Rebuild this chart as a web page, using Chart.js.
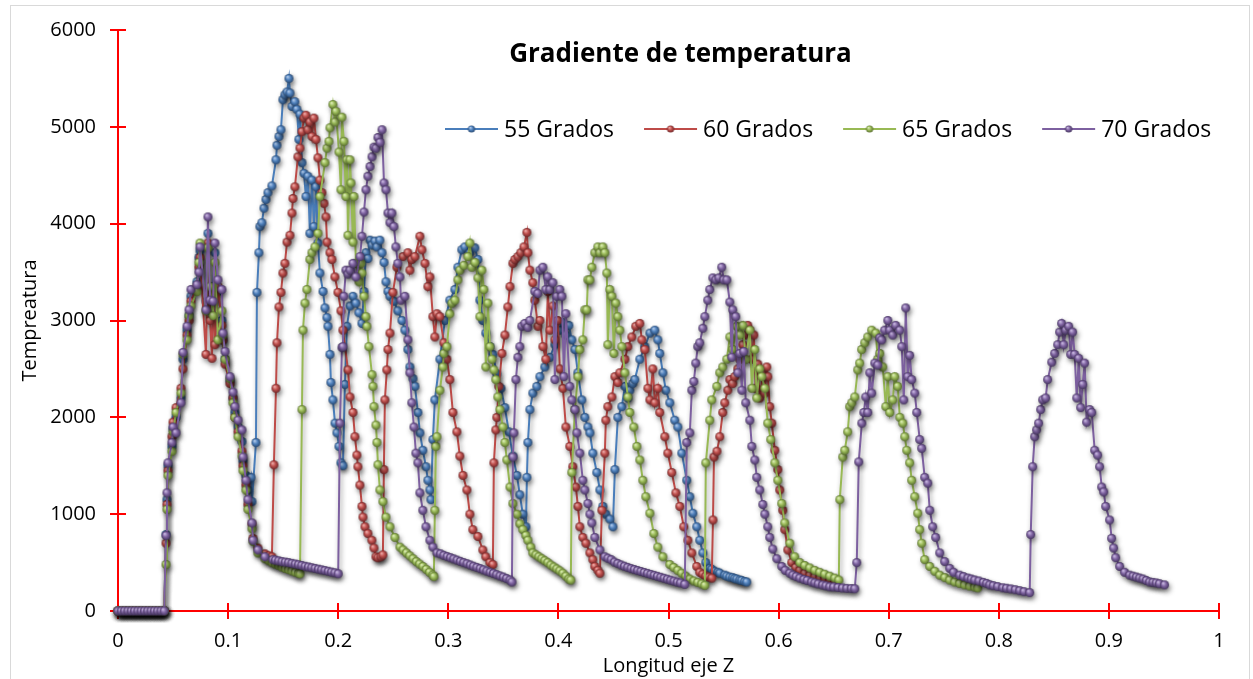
<!DOCTYPE html>
<html><head><meta charset="utf-8">
<script src="https://cdn.jsdelivr.net/npm/chart.js@4.4.1/dist/chart.umd.min.js"></script>
<style>
html,body{margin:0;padding:0;background:#fff;overflow:hidden}
#frame{position:absolute;left:10px;top:5px;width:1240px;height:700px;border:1px solid #d9d9d9;box-sizing:border-box}
#wrap{position:absolute;left:0;top:0;width:1253px;height:679px}
</style></head><body>
<div id="frame"></div>
<div id="wrap"><canvas id="c" width="1253" height="679"></canvas></div>
<script>
// ---------- DATA ----------
const seriesNames = ['55 Grados', '60 Grados', '65 Grados', '70 Grados'];
const xTickStep = 0.1, xMin = 0, xMax = 1;
const yTickStep = 1000, yMin = 0, yMax = 6000;
const chartTitle = 'Gradiente de temperatura';
const xTitle = 'Longitud eje Z';
const yTitle = 'Tempreatura';

// flat start, identical for the four series
const zeroRun = [[0,0],[0.003,0],[0.006,0],[0.009,0],[0.012,0],[0.015,0],[0.018,0],[0.021,0],[0.024,0],[0.027,0],[0.03,0],[0.033,0],[0.036,0],[0.039,0],[0.042,0]];

const s55 = [
[0.0436,790],[0.0445,1150],[0.0454,1500],[0.049,1700],[0.05,1880],[0.0527,2000],[0.0572,2200],[0.059,2600],[0.0627,2900],[0.0645,3050],[0.0663,3250],[0.0717,3400],[0.0735,3650],[0.0745,3720],[0.0799,3200],[0.0817,3900],[0.0836,3100],[0.0863,3350],[0.0881,3700],[0.0908,3300],[0.0944,3000],[0.0953,2800],[0.0972,2600],[0.1017,2380],[0.1044,2200],[0.1062,2050],[0.109,1900],[0.1126,1750],[0.1135,1550],[0.1162,1400],[0.118,1250],[0.1208,1380],[0.1217,1130],
[0.1253,1740],[0.1262,3290],[0.128,3700],[0.1289,3970],[0.1307,4010],[0.1326,4160],[0.1344,4250],[0.1362,4320],[0.1398,4390],[0.1435,4660],[0.1444,4810],[0.1462,4900],[0.148,4970],[0.1498,5280],[0.1516,5330],[0.1535,5360],[0.1553,5500],[0.1562,5350],[0.158,5210],[0.1607,5260],[0.1625,5180],[0.1643,4870],[0.1653,5130],[0.1671,4630],[0.1689,4520],[0.1707,4280],[0.1725,4490],[0.1743,3900],[0.1762,4450],[0.178,3970],[0.1798,4380],[0.1816,3800],[0.1834,3490],[0.1862,3300],[0.188,3130],[0.1898,3030],[0.1907,2940],[0.1925,2650],[0.1934,2360],[0.1952,2180],[0.1971,1940],[0.1989,1840],[0.2007,1700],[0.2025,1530],[0.2043,1500],
[0.2061,2340],[0.2079,2940],[0.2107,3150],[0.2134,3250],[0.2161,3180],[0.2188,3080],[0.2216,2970],[0.2234,3300],[0.2252,3700],[0.227,3640],[0.2289,3830],[0.2307,3780],[0.2334,3820],[0.2352,3760],[0.2379,3830],[0.2398,3700],[0.2416,3600],[0.2434,3400],[0.2452,3300],[0.247,3250],[0.2506,3200],[0.2542,3100],[0.2579,3000],[0.2606,2900],[0.2633,2700],[0.2651,2520],[0.2679,2400],[0.2697,2320],[0.2724,2050],[0.2742,1840],[0.2769,1660],[0.2797,1490],[0.2815,1350],[0.2833,1250],[0.2842,1150],
[0.286,1770],[0.2878,2180],[0.2924,2600],[0.2969,3000],[0.3014,3210],[0.306,3320],[0.3087,3550],[0.3123,3730],[0.3151,3760],[0.3196,3700],[0.3241,3750],[0.3269,3630],[0.3287,3210],[0.3314,3000],[0.3341,2870],[0.3378,2730],[0.3405,2650],[0.3441,2450],[0.3478,2300],[0.3514,2100],[0.355,1850],[0.3587,1600],[0.3623,1400],[0.365,1200],[0.3677,1000],[0.3705,870],
[0.3714,1380],[0.3723,1740],[0.3741,2080],[0.3768,2250],[0.3804,2320],[0.3832,2420],[0.3877,2520],[0.3923,2620],[0.3968,2750],[0.4013,2900],[0.4041,2980],[0.4068,2850],[0.4095,2950],[0.4122,2800],[0.415,2700],[0.4177,2460],[0.4213,2180],[0.424,2000],[0.4268,1900],[0.4286,1840],[0.4313,1630],[0.4349,1430],[0.4377,1250],[0.4404,1080],[0.4431,1000],[0.4467,950],[0.4495,870],
[0.4513,1460],[0.454,2000],[0.4576,2110],[0.4604,2320],[0.4631,2200],[0.4649,2280],[0.4676,2350],[0.4694,2390],[0.474,2600],[0.4785,2730],[0.4831,2870],[0.4876,2900],[0.4903,2800],[0.4921,2660],[0.4949,2460],[0.4976,2280],[0.5012,2150],[0.5057,1970],[0.5085,1900],[0.5121,1630],[0.5166,1350],[0.5194,1180],[0.5221,1010],[0.5257,870],[0.5284,730],[0.5312,600],[0.5339,500],[0.5375,440],[0.5393,430],[0.542,410],[0.5448,400],[0.5466,390],[0.5511,370],[0.553,360],[0.5557,350],[0.5584,345],[0.5602,335],[0.5621,330],[0.5648,320],[0.5666,315],[0.5693,305],[0.5711,300]
];

const s60 = [
[0.0436,700],[0.0445,1100],[0.0454,1450],[0.049,1800],[0.05,1950],[0.0527,2100],[0.0572,2300],[0.059,2500],[0.0627,2850],[0.0645,3000],[0.0663,3200],[0.0717,3350],[0.0735,3550],[0.0745,3650],[0.0799,2650],[0.0817,3800],[0.0836,3000],[0.0854,2610],[0.0863,3300],[0.0881,2750],[0.0908,3350],[0.0944,2950],[0.0953,2800],[0.0972,2550],[0.1017,2350],[0.1044,2200],[0.1062,2000],[0.109,1850],[0.1126,1650],[0.1135,1500],[0.1162,1300],[0.118,1100],[0.1217,900],[0.1226,750],[0.1271,650],[0.1335,590],[0.1371,570],[0.1398,560],
[0.1416,1510],[0.1435,2300],[0.1444,2770],[0.1462,3140],[0.148,3290],[0.1498,3490],[0.1516,3590],[0.1535,3810],[0.1562,3880],[0.158,4110],[0.1589,4260],[0.1607,4380],[0.1634,4690],[0.1653,4780],[0.1671,4950],[0.1689,5090],[0.1707,5120],[0.1725,4970],[0.1743,5050],[0.1762,4900],[0.178,5090],[0.1798,4870],[0.1816,4680],[0.1834,4450],[0.1852,4320],[0.1871,4210],[0.1889,4070],[0.1898,3810],[0.1925,3700],[0.1943,3630],[0.197,3450],[0.1998,3290],[0.2025,3100],[0.2043,2900],[0.2089,2490],[0.2107,2210],[0.2134,2050],[0.2152,1800],[0.217,1610],[0.2179,1490],[0.2197,1300],[0.2216,1080],[0.2225,970],[0.2243,870],[0.227,800],[0.2306,730],[0.2325,650],[0.2343,560],[0.2361,550],[0.2388,560],
[0.2406,580],[0.2415,1460],[0.2424,2180],[0.2442,2490],[0.2452,2700],[0.247,2870],[0.2497,3290],[0.2533,3550],[0.2588,3660],[0.2633,3700],[0.2651,3520],[0.2669,3630],[0.2697,3660],[0.2742,3870],[0.276,3730],[0.2788,3590],[0.2815,3350],[0.2833,3450],[0.286,3040],[0.2878,2830],[0.2897,3070],[0.2924,3040],[0.296,2770],[0.2987,2600],[0.3014,2390],[0.3042,2050],[0.3078,1850],[0.3105,1600],[0.3133,1400],[0.3169,1250],[0.3196,1000],[0.3223,840],[0.3269,770],[0.3314,630],[0.3341,560],[0.3378,500],
[0.3405,480],[0.3414,1530],[0.3432,1870],[0.3441,2000],[0.3459,2320],[0.3487,2660],[0.3514,2850],[0.3541,3140],[0.356,3350],[0.3587,3590],[0.3605,3630],[0.3632,3660],[0.3659,3700],[0.3687,3760],[0.3714,3910],[0.3723,3700],[0.3741,3520],[0.3768,3390],[0.3786,3210],[0.3814,2940],[0.3832,3000],[0.3859,2730],[0.3886,2600],[0.3904,3300],[0.3923,2900],[0.395,3150],[0.3968,2800],[0.3995,3000],[0.4013,2500],[0.4041,2300],[0.4068,1900],[0.4104,1700],[0.4131,1490],[0.4159,1280],[0.4177,1080],[0.4195,870],[0.4222,760],[0.425,700],[0.4286,600],[0.4313,530],[0.4331,460],[0.4359,420],[0.4377,390],
[0.4395,1040],[0.4422,1630],[0.4431,1970],[0.4449,2110],[0.4486,2210],[0.4513,2420],[0.454,2360],[0.4558,2460],[0.4604,2600],[0.4631,2730],[0.4667,2830],[0.4703,2940],[0.474,2970],[0.4758,2800],[0.4785,2700],[0.4813,2300],[0.4831,2180],[0.4858,2500],[0.4876,2150],[0.4903,2300],[0.4921,2050],[0.4967,1800],[0.4994,1630],[0.503,1430],[0.5067,1220],[0.5103,1080],[0.5139,870],[0.5176,730],[0.5212,600],[0.5257,460],[0.5284,400],[0.5312,380],[0.5339,360],[0.5366,350],[0.5393,340],
[0.5404,940],[0.5413,1590],[0.544,1650],[0.5466,1800],[0.5493,2050],[0.5511,2150],[0.5539,2280],[0.5557,2390],[0.5584,2350],[0.5602,2420],[0.563,2500],[0.5648,2600],[0.5675,2750],[0.5693,2850],[0.572,2950],[0.5739,2900],[0.5757,2600],[0.5775,2850],[0.5793,2300],[0.5811,2550],[0.5829,2200],[0.5857,2450],[0.5875,2250],[0.5893,2520],[0.5902,2420],[0.592,2110],[0.5938,1940],[0.5966,1660],[0.5993,1460],[0.6011,1250],[0.6038,1040],[0.6056,840],[0.6084,630],[0.612,500],[0.6156,450],[0.6193,420],[0.6238,390],[0.6283,370],[0.6329,355],[0.6374,340],[0.6419,330],[0.6465,315],[0.651,300]
];

const s65 = [
[0.0436,480],[0.0445,1050],[0.0454,1400],[0.049,1650],[0.05,1850],[0.0527,2050],[0.0572,2250],[0.059,2650],[0.0627,2800],[0.0645,3050],[0.0663,3150],[0.0717,3300],[0.0735,3600],[0.0745,3800],[0.0799,3100],[0.0817,3750],[0.0836,3350],[0.0863,3050],[0.0881,3600],[0.0908,2800],[0.0944,3100],[0.0953,2850],[0.0972,2600],[0.1017,2400],[0.1044,2150],[0.1062,2000],[0.109,1800],[0.1126,1600],[0.1135,1450],[0.1162,1250],[0.118,1050],[0.1217,850],[0.1226,720],[0.1271,600],[0.1335,540],
[0.137,520],[0.14,500],[0.143,485],[0.146,470],[0.149,455],[0.152,440],[0.155,428],[0.158,415],[0.161,402],[0.164,390],[0.1653,385],
[0.1671,2080],[0.168,2900],[0.1698,3180],[0.1716,3320],[0.1743,3630],[0.1762,3700],[0.1789,3760],[0.1816,3900],[0.1834,4280],[0.188,4630],[0.1898,4780],[0.1916,4850],[0.1925,4990],[0.1952,5230],[0.1971,5050],[0.198,5160],[0.2007,4740],[0.2025,4350],[0.2034,5100],[0.2052,4850],[0.207,4280],[0.2079,4660],[0.2089,3880],[0.2107,4660],[0.2116,4420],[0.2134,3810],[0.2143,4280],[0.2161,3590],[0.2189,3400],[0.2207,3590],[0.2216,3490],[0.2234,3250],[0.2252,3040],[0.2261,2940],[0.2279,2730],[0.2307,2440],[0.2316,2320],[0.2325,2110],[0.2343,1920],[0.2352,1740],[0.2361,1510],[0.2379,1250],[0.2406,1130],[0.2434,970],[0.247,870],[0.2515,760],[0.2561,660],
[0.259,630],[0.262,600],[0.265,570],[0.268,540],[0.271,510],[0.274,485],[0.277,460],[0.28,430],[0.283,400],[0.286,370],[0.2869,355],
[0.2878,1040],[0.2887,1700],[0.2897,1800],[0.2924,2280],[0.2951,2520],[0.296,2660],[0.2987,2730],[0.3014,3070],[0.3033,3180],[0.306,3210],[0.3087,3420],[0.3105,3520],[0.3142,3570],[0.3178,3660],[0.3196,3800],[0.3214,3550],[0.3242,3600],[0.3269,3440],[0.3287,3040],[0.3305,3520],[0.3323,3320],[0.3341,2520],[0.336,3180],[0.3378,2730],[0.3396,2600],[0.3414,2490],[0.3432,2390],[0.345,2210],[0.3469,2080],[0.3496,1900],[0.3514,1740],[0.3532,1560],[0.356,1280],[0.3587,1110],[0.3623,1000],[0.365,900],[0.3677,840],[0.3705,780],[0.3723,730],[0.375,660],[0.3768,600],[0.3796,580],[0.3823,560],[0.385,540],[0.3877,520],[0.3904,500],[0.3932,475],[0.3959,455],[0.3986,435],[0.4013,415],[0.4041,390],[0.4068,360],[0.4095,330],[0.4113,320],
[0.4122,1430],[0.415,2080],[0.4177,2420],[0.4195,2700],[0.4222,2800],[0.424,3110],[0.4258,3110],[0.4268,3420],[0.4286,3420],[0.4304,3550],[0.4331,3700],[0.4358,3760],[0.4377,3700],[0.4404,3760],[0.4422,3700],[0.444,3490],[0.4449,2750],[0.4467,3320],[0.4486,3250],[0.4504,2660],[0.4522,3180],[0.454,3040],[0.4558,2900],[0.4576,2730],[0.4604,2460],[0.4631,2210],[0.4649,2050],[0.4685,1900],[0.4713,1700],[0.474,1560],[0.4767,1350],[0.4794,1180],[0.4831,1010],[0.4867,800],[0.4903,660],[0.4949,560],[0.5012,480],[0.5048,450],[0.5085,420],[0.5121,390],[0.5157,360],[0.5194,330],[0.523,310],[0.5266,295],[0.5302,280],[0.533,265],
[0.5339,1530],[0.5375,1970],[0.5393,2180],[0.5439,2320],[0.5466,2460],[0.5493,2520],[0.553,2600],[0.5557,2830],[0.5584,2700],[0.562,2940],[0.5648,2850],[0.5675,2950],[0.5702,2600],[0.5739,2900],[0.5757,2300],[0.5784,2700],[0.5802,2200],[0.5829,2500],[0.5847,2420],[0.5875,2300],[0.5902,1940],[0.5929,1770],[0.5966,1530],[0.5993,1350],[0.6029,1110],[0.6056,910],[0.6102,700],[0.6147,560],[0.6193,500],[0.6238,470],[0.6283,445],[0.6329,420],[0.6374,400],[0.6419,380],[0.6465,360],[0.651,340],[0.6547,320],
[0.6556,1150],[0.6583,1590],[0.6601,1660],[0.6628,1850],[0.6646,2110],[0.6665,2150],[0.6692,2210],[0.6719,2490],[0.6737,2560],[0.6755,2700],[0.6783,2770],[0.681,2830],[0.6846,2900],[0.6883,2870],[0.6901,2600],[0.6919,2660],[0.6946,2520],[0.6974,2110],[0.6992,2420],[0.701,2050],[0.7037,2180],[0.7055,2420],[0.7082,2320],[0.7101,2000],[0.7128,1940],[0.7146,1800],[0.7164,1660],[0.7191,1530],[0.7209,1350],[0.7237,1180],[0.7264,1010],[0.7282,840],[0.73,700],[0.7327,530],[0.7373,460],[0.7419,410],[0.7464,370],[0.751,345],[0.7555,320],[0.76,300],[0.7645,285],[0.769,270],[0.7736,258],[0.7781,248],[0.7809,240]
];

const s70 = [
[0.0436,780],[0.0445,1220],[0.0454,1530],[0.049,1740],[0.05,1900],[0.0527,1840],[0.0572,2150],[0.059,2670],[0.0627,2940],[0.0645,3110],[0.0663,3320],[0.0717,3370],[0.0735,3500],[0.0745,3760],[0.0799,3110],[0.0817,4070],[0.0836,3210],[0.0863,3200],[0.0881,3800],[0.0908,3420],[0.0944,3320],[0.0953,2870],[0.0972,2680],[0.1017,2420],[0.1044,2260],[0.1062,2110],[0.109,1970],[0.1126,1870],[0.1135,1590],[0.1162,1350],[0.118,1150],[0.1217,910],[0.1226,730],[0.1271,630],[0.1335,560],[0.1407,530],
[0.143,525],[0.146,518],[0.149,510],[0.152,505],[0.155,500],[0.158,492],[0.161,485],[0.164,478],[0.167,470],[0.17,462],[0.173,455],[0.176,447],[0.179,440],[0.182,432],[0.185,425],[0.188,418],[0.191,410],[0.194,402],[0.197,395],[0.2,385],
[0.2016,1940],[0.2034,2720],[0.2043,2730],[0.2052,3250],[0.207,3520],[0.2089,3480],[0.2107,3520],[0.2134,3590],[0.2161,3450],[0.2198,3660],[0.2216,3870],[0.2234,4120],[0.2252,4350],[0.227,4490],[0.2289,4590],[0.2307,4690],[0.2325,4790],[0.2343,4780],[0.2361,4890],[0.238,4840],[0.2398,4970],[0.2416,4420],[0.2434,4350],[0.2452,4110],[0.247,4010],[0.2488,4110],[0.2506,3970],[0.2524,3760],[0.2542,3590],[0.2561,3450],[0.257,3210],[0.2606,3250],[0.2633,2800],[0.2651,2460],[0.2669,2150],[0.2688,1900],[0.2706,1630],[0.2724,1530],[0.2742,1220],[0.2769,1040],[0.2797,870],[0.2833,730],[0.286,660],[0.2897,600],
[0.293,590],[0.296,575],[0.299,562],[0.302,550],[0.305,538],[0.308,525],[0.311,512],[0.314,500],[0.317,488],[0.32,475],[0.323,462],[0.326,450],[0.329,438],[0.332,425],[0.335,412],[0.338,400],[0.341,388],[0.344,375],[0.347,362],[0.35,350],[0.353,335],[0.356,320],[0.3578,300],
[0.3587,1590],[0.3596,1840],[0.3614,2390],[0.3632,2620],[0.365,2730],[0.3668,2940],[0.3695,2970],[0.3723,2930],[0.3741,3000],[0.3786,3300],[0.3814,3280],[0.3832,3520],[0.3859,3550],[0.3886,3320],[0.3904,3450],[0.3923,3320],[0.395,3390],[0.3968,2390],[0.3986,3250],[0.4013,3320],[0.4032,3250],[0.405,2420],[0.4068,3070],[0.4104,2320],[0.4122,2180],[0.415,2080],[0.4168,1840],[0.4195,1630],[0.4222,1350],[0.424,1250],[0.4268,1110],[0.4286,1000],[0.4304,910],[0.4331,760],[0.4377,630],[0.4422,560],
[0.445,545],[0.448,530],[0.451,505],[0.454,490],[0.457,475],[0.46,462],[0.463,450],[0.466,438],[0.469,428],[0.472,418],[0.475,408],[0.478,398],[0.481,388],[0.484,378],[0.487,368],[0.49,358],[0.493,348],[0.496,338],[0.499,328],[0.502,318],[0.505,308],[0.508,298],[0.511,290],[0.5148,275],
[0.5166,1740],[0.5194,1840],[0.5212,2280],[0.523,2370],[0.5248,2560],[0.5266,2730],[0.5284,2770],[0.5312,2920],[0.533,3040],[0.5357,3210],[0.5375,3320],[0.5403,3440],[0.543,3420],[0.5457,3440],[0.5484,3550],[0.5502,3420],[0.553,3420],[0.5557,3190],[0.5575,2620],[0.5584,3110],[0.5611,3040],[0.563,2460],[0.5648,2660],[0.5666,2280],[0.5684,2680],[0.5702,2150],[0.5739,1970],[0.5757,1700],[0.5784,1560],[0.5802,1380],[0.5829,1250],[0.5857,1100],[0.5875,1000],[0.5902,870],[0.592,760],[0.5947,640],[0.5984,540],[0.6029,460],[0.606,420],[0.6102,390],[0.613,370],[0.616,355],[0.6193,340],[0.623,325],[0.626,315],[0.63,300],[0.6329,290],[0.636,280],[0.64,268],[0.643,260],[0.6465,250],[0.65,248],[0.654,243],[0.658,238],[0.662,234],[0.666,232],[0.6692,230],
[0.671,500],[0.6728,1540],[0.6756,1940],[0.6774,2050],[0.6792,2210],[0.681,2050],[0.6828,2460],[0.6846,2250],[0.6874,2560],[0.6901,2540],[0.6919,2820],[0.6937,2800],[0.6964,2900],[0.6992,3000],[0.701,2900],[0.7037,2850],[0.7064,2950],[0.7101,2900],[0.7119,2730],[0.7137,2180],[0.7155,3130],[0.7173,2420],[0.7191,2640],[0.7209,2390],[0.7237,2250],[0.7255,2050],[0.7282,1770],[0.73,1680],[0.7327,1380],[0.7355,1320],[0.7373,1040],[0.74,870],[0.7427,760],[0.7464,600],[0.7509,510],[0.7555,440],[0.759,400],[0.7645,370],[0.768,355],[0.772,340],[0.775,330],[0.7782,320],[0.782,310],[0.786,295],[0.789,285],[0.7918,270],[0.795,262],[0.799,252],[0.8036,240],[0.807,235],[0.811,228],[0.815,220],[0.819,210],[0.823,200],[0.8281,190],
[0.829,790],[0.8308,1490],[0.8326,1800],[0.8344,1870],[0.8362,1940],[0.8381,2080],[0.8399,2180],[0.8426,2200],[0.8444,2390],[0.8481,2570],[0.8508,2660],[0.8535,2750],[0.8553,2880],[0.8571,2970],[0.859,2750],[0.8608,2900],[0.8635,2940],[0.8653,2650],[0.8671,2880],[0.8689,2650],[0.8708,2200],[0.8726,2610],[0.8744,2100],[0.8762,2340],[0.878,2560],[0.8798,1950],[0.8826,2080],[0.8844,2050],[0.8871,1660],[0.8898,1610],[0.8916,1490],[0.8935,1280],[0.8953,1230],[0.8971,1080],[0.9007,940],[0.9025,750],[0.9043,650],[0.9062,550],[0.9098,460],[0.9143,400],[0.9189,370],[0.922,360],[0.925,350],[0.928,340],[0.931,330],[0.934,315],[0.937,300],[0.94,295],[0.943,290],[0.946,282],[0.9506,270]
];

// ---------- STYLE ----------
const palette = [
  {line:'#4A7EBB', light:'#b9d0ee', base:'#4f81bd', dark:'#2a4a72'},
  {line:'#BE4B48', light:'#f0b3b1', base:'#c0504d', dark:'#70282a'},
  {line:'#98B954', light:'#e2f2bd', base:'#9bbb59', dark:'#5a7030'},
  {line:'#7D60A0', light:'#cfc0e6', base:'#8064a2', dark:'#463660'}
];
const FONT = "'Open Sans', 'Liberation Sans', sans-serif";

function sphere(c, r) {
  const cv = document.createElement('canvas');
  const s = Math.ceil(r * 2) + 2;
  cv.width = s; cv.height = s;
  const g = cv.getContext('2d');
  const cx = s / 2, cy = s / 2;
  const grad = g.createRadialGradient(cx - r * 0.35, cy - r * 0.4, r * 0.05, cx, cy, r);
  grad.addColorStop(0, c.light);
  grad.addColorStop(0.5, c.base);
  grad.addColorStop(1, c.dark);
  g.fillStyle = grad;
  g.beginPath(); g.arc(cx, cy, r, 0, Math.PI * 2); g.fill();
  return cv;
}
const markers = palette.map(c => sphere(c, 4.5));
const legendMarkers = palette.map(c => sphere(c, 3.6));

const allSeries = [s55, s60, s65, s70];
const datasets = allSeries.map((s, i) => ({
  label: seriesNames[i],
  data: zeroRun.concat(s).map(p => ({x: p[0], y: p[1]})),
  showLine: true,
  borderColor: palette[i].line,
  backgroundColor: palette[i].base,
  borderWidth: 2,
  pointStyle: markers[i],
  pointRadius: 4.5,
  pointHoverRadius: 4.5,
  tension: 0,
  clip: false,
  order: 4 - i
}));

const shadowPlugin = {
  id: 'shadow',
  beforeDatasetDraw(chart) {
    const ctx = chart.ctx;
    ctx.save();
    ctx.shadowColor = 'rgba(0,0,0,0.45)';
    ctx.shadowBlur = 5;
    ctx.shadowOffsetX = 1.5;
    ctx.shadowOffsetY = 3;
  },
  afterDatasetDraw(chart) { chart.ctx.restore(); }
};

const axesPlugin = {
  id: 'redAxes',
  beforeDatasetsDraw(chart) {
    const {ctx, chartArea: a, scales: {x, y}} = chart;
    ctx.save();
    ctx.strokeStyle = '#FF0000';
    ctx.lineWidth = 2;
    ctx.beginPath();
    ctx.moveTo(a.left, a.top); ctx.lineTo(a.left, a.bottom);
    ctx.moveTo(a.left, a.bottom); ctx.lineTo(a.right, a.bottom);
    y.ticks.forEach(t => { const py = Math.round(y.getPixelForValue(t.value)); ctx.moveTo(a.left - 8, py); ctx.lineTo(a.left + 8, py); });
    x.ticks.forEach(t => { const px = Math.round(x.getPixelForValue(t.value)); ctx.moveTo(px, a.bottom - 8); ctx.lineTo(px, a.bottom + 8); });
    ctx.stroke();
    ctx.restore();
  }
};

const overlayPlugin = {
  id: 'overlay',
  afterDraw(chart) {
    const {ctx, chartArea: a} = chart;
    ctx.save();
    // title inside plot area
    ctx.fillStyle = '#000';
    ctx.font = 'bold 26px ' + FONT;
    ctx.textAlign = 'center';
    ctx.textBaseline = 'alphabetic';
    ctx.fillText(chartTitle, (a.left + a.right) / 2 + 12, a.top + 32);
    // legend inside plot area
    ctx.font = '23px ' + FONT;
    ctx.textAlign = 'left';
    ctx.textBaseline = 'middle';
    let lx = 445;
    const ly = a.top + 99;
    chart.data.datasets.forEach((ds, i) => {
      ctx.strokeStyle = ds.borderColor;
      ctx.lineWidth = 2;
      ctx.beginPath(); ctx.moveTo(lx, ly); ctx.lineTo(lx + 53, ly); ctx.stroke();
      const m = legendMarkers[i];
      ctx.drawImage(m, lx + 26.5 - m.width / 2, ly - m.height / 2);
      ctx.fillStyle = '#000';
      ctx.fillText(ds.label, lx + 59, ly + 1);
      lx += 59 + ctx.measureText(ds.label).width + 30;
    });
    ctx.restore();
  }
};

Chart.defaults.font.family = FONT;
Chart.defaults.color = '#000';

new Chart(document.getElementById('c'), {
  type: 'scatter',
  data: {datasets},
  options: {
    responsive: false,
    animation: false,
    events: [],
    layout: {padding: {left: 0, right: 34, top: 30, bottom: 0}},
    plugins: {legend: {display: false}, tooltip: {enabled: false}, title: {display: false}},
    scales: {
      x: {
        type: 'linear', min: xMin, max: xMax,
        grid: {display: false, drawTicks: false},
        border: {display: false},
        ticks: {stepSize: xTickStep, autoSkip: false, maxRotation: 0, padding: 18,
                font: {size: 20}, color: '#000',
                callback: v => String(Math.round(v * 10) / 10)},
        title: {display: true, text: xTitle, font: {size: 20}, color: '#000', padding: {top: 0, bottom: 1}},
        afterFit: s => { s.height = 68; s.paddingLeft = 0; s.paddingRight = 0; }
      },
      y: {
        type: 'linear', min: yMin, max: yMax,
        grid: {display: false, drawTicks: false},
        border: {display: false},
        ticks: {stepSize: yTickStep, padding: 22, font: {size: 20}, color: '#000',
                callback: v => String(v)},
        title: {display: true, text: yTitle, font: {size: 20}, color: '#000', padding: {top: 18, bottom: 0}},
        afterFit: s => { s.width = 118; s.paddingTop = 0; s.paddingBottom = 0; }
      }
    }
  },
  plugins: [shadowPlugin, axesPlugin, overlayPlugin]
});
</script>
</body></html>
